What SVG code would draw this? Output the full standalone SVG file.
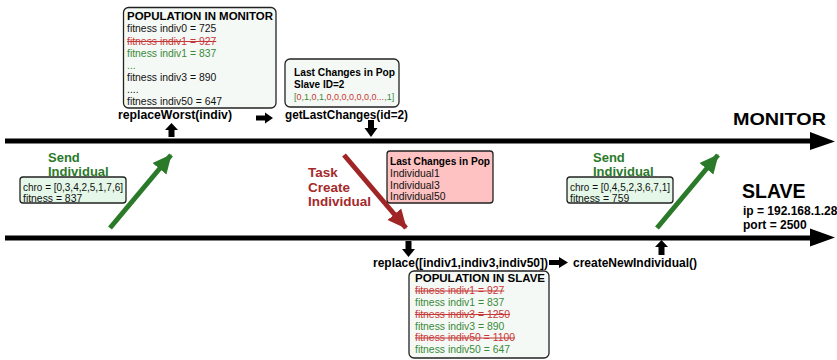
<svg xmlns="http://www.w3.org/2000/svg" width="837" height="360" viewBox="0 0 837 360">
<defs>
<style>
text{font-family:"Liberation Sans",Arial,sans-serif;}
.box{fill:#f5f9f5;stroke:#222;stroke-width:1.3;}
.chro{fill:#e4f7e8;stroke:#222;stroke-width:1.3;}
.pink{fill:#ffc2c2;stroke:#222;stroke-width:1.3;}
.t10{font-size:10.4px;fill:#111;}
.heavy{font-weight:bold;font-size:11.5px;fill:#000;}
.fn{font-weight:bold;font-size:12px;fill:#000;}
.g{fill:#3a8a3a;}
.r{fill:#c83838;text-decoration:line-through;}
.sendlbl{font-weight:bold;font-size:13px;fill:#2a7a2a;}
.tasklbl{font-weight:bold;font-size:13.5px;fill:#a52a2a;}
.main{stroke:#000;stroke-width:5;fill:none;}
.blk{fill:#000;}
</style>
<marker id="gh" markerUnits="userSpaceOnUse" markerWidth="20" markerHeight="20" viewBox="0 0 20 20" refX="18" refY="10" orient="auto"><path d="M0,1 L19,10 L0,19 Z" fill="#2a7a2a"/></marker>
<marker id="rh" markerUnits="userSpaceOnUse" markerWidth="20" markerHeight="20" viewBox="0 0 20 20" refX="18" refY="10" orient="auto"><path d="M0,1 L19,10 L0,19 Z" fill="#a02525"/></marker>
</defs>
<rect width="837" height="360" fill="#fff"/>

<g id="connectors">
<line class="main" x1="5" y1="141" x2="812" y2="141"/>
<polygon class="blk" points="810,132 835,141.5 810,150"/>
<line class="main" x1="5" y1="238" x2="812" y2="238"/>
<polygon class="blk" points="810,228.5 835,237.5 810,246.5"/>
<line x1="110" y1="228" x2="171" y2="155" stroke="#2a7a2a" stroke-width="5" marker-end="url(#gh)"/>
<line x1="657" y1="228" x2="718" y2="155" stroke="#2a7a2a" stroke-width="5" marker-end="url(#gh)"/>
<line x1="344" y1="155" x2="406" y2="228" stroke="#a02525" stroke-width="5" marker-end="url(#rh)"/>
<path class="blk" d="M256,115.5 H265 V112.5 L273,118 L265,123.5 V120.5 H256 Z"/>
<path class="blk" d="M171.5,123 L178,130 H174.5 V137 H168.5 V130 H165 Z"/>
<path class="blk" d="M368,120 H374 V128 H377.5 L371,137 L364.5,128 H368 Z"/>
<path class="blk" d="M405.5,241 H411.5 V249 H415 L408.5,257 L402,249 H405.5 Z"/>
<path class="blk" d="M661.5,240 L668,247 H664.5 V255 H658.5 V247 H655 Z"/>
<path class="blk" d="M549,260 H559 V257 L568,262.5 L559,268 V265 H549 Z"/>
</g>

<g id="monitor-population">
<rect class="box" x="123.5" y="7.5" width="152.5" height="100.5" rx="5"/>
<text class="heavy" x="127" y="19.5" textLength="146" lengthAdjust="spacingAndGlyphs">POPULATION IN MONITOR</text>
<text class="t10" x="127" y="32">fitness indiv0 = 725</text>
<text class="t10 r" x="127" y="44.5">fitness indiv1 = 927</text>
<text class="t10 g" x="127" y="56.5">fitness indiv1 = 837</text>
<text class="t10 g" x="127" y="68.5">...</text>
<text class="t10" x="127" y="81">fitness indiv3 = 890</text>
<text class="t10" x="127" y="93">....</text>
<text class="t10" x="127" y="105">fitness indiv50 = 647</text>
</g>

<g id="replaceWorst">
<text class="fn" x="118" y="119" textLength="114" lengthAdjust="spacingAndGlyphs">replaceWorst(indiv)</text>
</g>

<g id="last-changes-monitor">
<rect class="box" x="285" y="59" width="114" height="48" rx="5"/>
<text x="294" y="76" font-weight="bold" font-size="10" textLength="101" lengthAdjust="spacingAndGlyphs" fill="#000">Last Changes in Pop</text>
<text x="294" y="88" font-weight="bold" font-size="10" fill="#000">Slave ID=2</text>
<text x="294" y="99.5" font-size="9"><tspan fill="#3a8a3a">[</tspan><tspan fill="#c83838">0</tspan><tspan fill="#3a8a3a">,1,</tspan><tspan fill="#c83838">0</tspan><tspan fill="#3a8a3a">,1,</tspan><tspan fill="#c83838">0,0,0,0,0,0,0...</tspan><tspan fill="#3a8a3a">,1]</tspan></text>
</g>

<g id="getLastChanges">
<text class="fn" x="285" y="119" textLength="123" lengthAdjust="spacingAndGlyphs">getLastChanges(id=2)</text>
</g>

<g id="monitor-label">
<text x="733" y="125" font-weight="bold" font-size="17" textLength="93" lengthAdjust="spacingAndGlyphs" fill="#000">MONITOR</text>
</g>

<g id="send-left">
<text class="sendlbl" x="48" y="162">Send</text>
<text class="sendlbl" x="48" y="176">Individual</text>
<rect class="chro" x="20" y="177" width="106" height="26" rx="3"/>
<text class="t10" x="23" y="191" textLength="100" lengthAdjust="spacingAndGlyphs">chro = [0,3,4,2,5,1,7,6]</text>
<text class="t10" x="23" y="202">fitness = 837</text>
</g>

<g id="task-create">
<text class="tasklbl" x="308" y="177">Task</text>
<text class="tasklbl" x="308" y="192">Create</text>
<text class="tasklbl" x="308" y="206">Individual</text>
</g>

<g id="last-changes-slave">
<rect class="pink" x="387" y="151" width="106" height="52" rx="3"/>
<text x="390" y="164.5" font-weight="bold" font-size="10" textLength="100" lengthAdjust="spacingAndGlyphs" fill="#000">Last Changes in Pop</text>
<text class="t10" x="390" y="177">Individual1</text>
<text class="t10" x="390" y="188.5">Individual3</text>
<text class="t10" x="390" y="200">Individual50</text>
</g>

<g id="send-right">
<text class="sendlbl" x="593" y="162">Send</text>
<text class="sendlbl" x="593" y="176">Individual</text>
<rect class="chro" x="567" y="177" width="106" height="26" rx="3"/>
<text class="t10" x="570" y="191" textLength="100" lengthAdjust="spacingAndGlyphs">chro = [0,4,5,2,3,6,7,1]</text>
<text class="t10" x="570" y="202">fitness = 759</text>
</g>

<g id="slave-label">
<text x="742" y="198" font-weight="bold" font-size="19.5" fill="#000">SLAVE</text>
<text class="fn" x="743" y="215">ip = 192.168.1.28</text>
<text class="fn" x="743" y="229">port = 2500</text>
</g>

<g id="replace">
<text class="fn" x="373" y="266.5" textLength="175" lengthAdjust="spacingAndGlyphs">replace([indiv1,indiv3,indiv50])</text>
</g>

<g id="createNewIndividual">
<text class="fn" x="573" y="266.5" textLength="124" lengthAdjust="spacingAndGlyphs">createNewIndividual()</text>
</g>

<g id="slave-population">
<rect class="box" x="409" y="271" width="140" height="87" rx="5"/>
<text class="heavy" x="415" y="282" textLength="130" lengthAdjust="spacingAndGlyphs">POPULATION IN SLAVE</text>
<text class="t10 r" x="415" y="294">fitness indiv1 = 927</text>
<text class="t10 g" x="415" y="306">fitness indiv1 = 837</text>
<text class="t10 r" x="415" y="317.5">fitness indiv3 = 1250</text>
<text class="t10 g" x="415" y="329.5">fitness indiv3 = 890</text>
<text class="t10 r" x="415" y="341">fitness indiv50 = 1100</text>
<text class="t10 g" x="415" y="353">fitness indiv50 = 647</text>
</g>
</svg>
